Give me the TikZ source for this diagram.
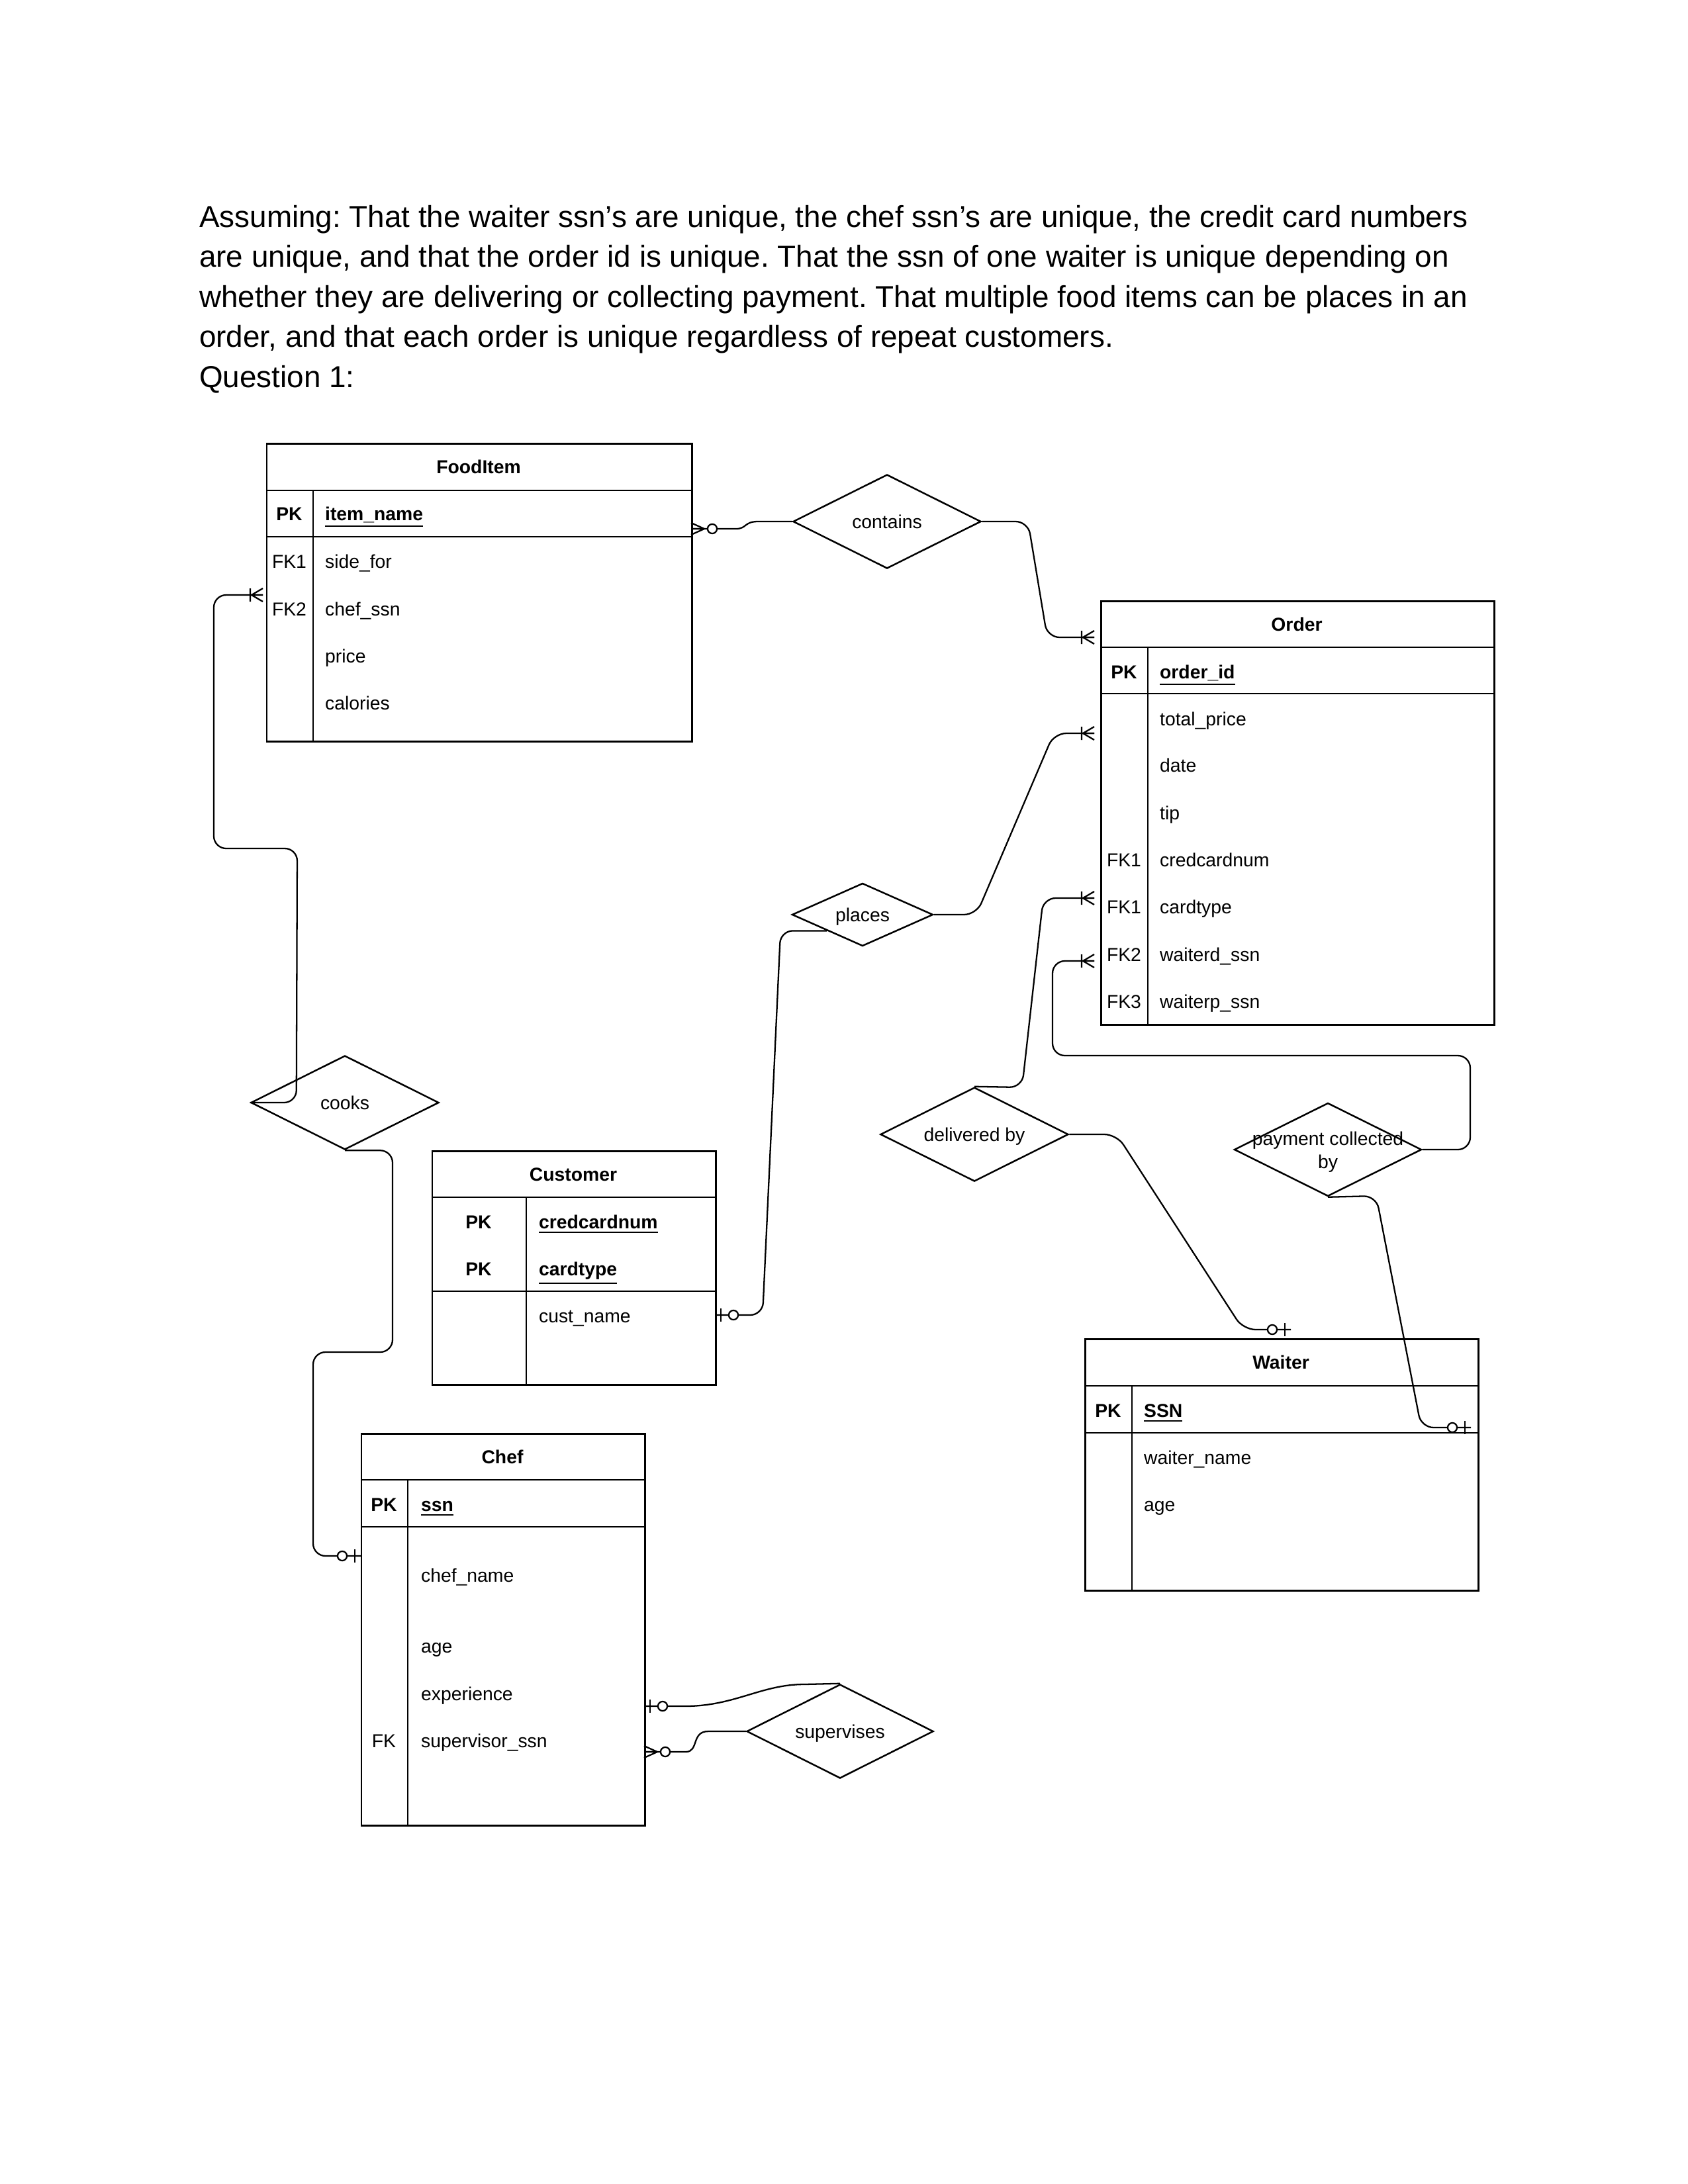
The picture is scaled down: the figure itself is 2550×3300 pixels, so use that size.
\documentclass[tikz,border=0pt]{standalone}
\usepackage{fontspec}
\setmainfont{Liberation Sans}
\usetikzlibrary{shapes.geometric,calc}

% one drawing unit = one pixel of a 300 dpi letter page
\def\pxu{0.2409pt}
\newcommand\dgfont{\fontsize{6.8bp}{8.2bp}\selectfont}
\newcommand\bodyfont{\fontsize{11bp}{14.5bp}\selectfont}

\tikzset{
  ent/.style={draw, line width=0.6pt, inner sep=0, anchor=north west},
  rel/.style={draw, diamond, line width=0.6pt, inner sep=0},
  txt/.style={font=\dgfont, inner sep=0, anchor=base west},
  key/.style={font=\dgfont, inner sep=0, anchor=base},
  hdr/.style={font=\dgfont\bfseries, inner sep=0, anchor=base},
  rlab/.style={font=\dgfont, inner sep=0, anchor=base, align=center},
  body/.style={font=\bodyfont, inner sep=0, anchor=base west},
  link/.style={line width=0.55pt, rounded corners=4.5pt},
  curve/.style={line width=0.55pt},
  % crow's foot end marks, drawn with the entity edge at the origin
  zmany/.pic={\draw (0,-9)--(20,0) (0,9)--(20,0) (0,0)--(20,0);
              \draw[fill=white] (32,0) circle[radius=1.7pt];},
  onemany/.pic={\draw (0,-10)--(17,0) (0,10)--(17,0) (0,0)--(17,0) (19,-10)--(19,10);},
  zone/.pic={\draw (9,-10)--(9,10);
             \draw[fill=white] (28,0) circle[radius=1.7pt];},
}

\begin{document}
\frenchspacing
\begin{tikzpicture}[x=\pxu, y=-\pxu, line width=0.55pt]
\useasboundingbox (0,0) rectangle (2550,3300);
\fill[white] (0,0) rectangle (2550,3300);

% ---- assumptions ----
\node[body] (l1) at (300,343) {Assuming: That the waiter ssn’s are unique, the chef ssn’s are unique, the credit card numbers};
\node[body] (l2) at (300,403.5) {are unique, and that the order id is unique. That the ssn of one waiter is unique depending on};
\node[body] (l3) at (300,464) {whether they are delivering or collecting payment. That multiple food items can be places in an};
\node[body] (l4) at (300,524.5) {order, and that each order is unique regardless of repeat customers.};
\node[body] (l5) at (300,585) {Question 1:};

% ---- FoodItem ----
\node[ent, minimum width=642*\pxu, minimum height=450*\pxu] (food) at (402,669) {};
\draw ($(food.north west)+(0,72)$) -- ($(food.north east)+(0,72)$);
\draw ($(food.north west)+(0,142)$) -- ($(food.north east)+(0,142)$);
\draw ($(food.north west)+(71,72)$) -- ($(food.south west)+(71,0)$);
\node[hdr] (food-h) at (723,715) {FoodItem};
\node[key] (food-k1) at (437,786) {\bfseries PK};
\node[key] (food-k2) at (437,858) {FK1};
\node[key] (food-k3) at (437,930) {FK2};
\node[txt] (food-a1) at (490,786) {\bfseries\underline{item\_name}};
\node[txt] (food-a2) at (490,858) {side\_for};
\node[txt] (food-a3) at (490,930) {chef\_ssn};
\node[txt] (food-a4) at (490,1001) {price};
\node[txt] (food-a5) at (490,1072) {calories};

% ---- Order ----
\node[ent, minimum width=594*\pxu, minimum height=640*\pxu] (order) at (1662,907) {};
\draw ($(order.north west)+(0,71)$) -- ($(order.north east)+(0,71)$);
\draw ($(order.north west)+(0,141)$) -- ($(order.north east)+(0,141)$);
\draw ($(order.north west)+(72,71)$) -- ($(order.south west)+(72,0)$);
\node[hdr] (order-h) at (1959,953) {Order};
\node[key] (order-k1) at (1698,1025) {\bfseries PK};
\node[key] (order-k2) at (1698,1309) {FK1};
\node[key] (order-k3) at (1698,1380) {FK1};
\node[key] (order-k4) at (1698,1452) {FK2};
\node[key] (order-k5) at (1698,1523) {FK3};
\node[txt] (order-a1) at (1751,1025) {\bfseries\underline{order\_id}};
\node[txt] (order-a2) at (1751,1096) {total\_price};
\node[txt] (order-a3) at (1751,1166) {date};
\node[txt] (order-a4) at (1751,1238) {tip};
\node[txt] (order-a5) at (1751,1309) {credcardnum};
\node[txt] (order-a6) at (1751,1380) {cardtype};
\node[txt] (order-a7) at (1751,1452) {waiterd\_ssn};
\node[txt] (order-a8) at (1751,1523) {waiterp\_ssn};

% ---- Customer ----
\node[ent, minimum width=428*\pxu, minimum height=353*\pxu] (cust) at (652,1738) {};
\draw ($(cust.north west)+(0,71)$) -- ($(cust.north east)+(0,71)$);
\draw ($(cust.north west)+(0,213)$) -- ($(cust.north east)+(0,213)$);
\draw ($(cust.north west)+(143,71)$) -- ($(cust.south west)+(143,0)$);
\node[hdr] (cust-h) at (866,1784) {Customer};
\node[key] (cust-k1) at (723,1856) {\bfseries PK};
\node[key] (cust-k2) at (723,1927) {\bfseries PK};
\node[txt] (cust-a1) at (813,1856) {\bfseries\underline{credcardnum}};
\node[txt] (cust-a2) at (813,1927) {\bfseries\underline{cardtype}};
\node[txt] (cust-a3) at (813,1998) {cust\_name};

% ---- Chef ----
\node[ent, minimum width=428*\pxu, minimum height=592*\pxu] (chef) at (545,2165) {};
\draw ($(chef.north west)+(0,71)$) -- ($(chef.north east)+(0,71)$);
\draw ($(chef.north west)+(0,142)$) -- ($(chef.north east)+(0,142)$);
\draw ($(chef.north west)+(71,71)$) -- ($(chef.south west)+(71,0)$);
\node[hdr] (chef-h) at (759,2211) {Chef};
\node[key] (chef-k1) at (580,2283) {\bfseries PK};
\node[key] (chef-k2) at (580,2640) {FK};
\node[txt] (chef-a1) at (635,2283) {\bfseries\underline{ssn}};
\node[txt] (chef-a2) at (635,2390) {chef\_name};
\node[txt] (chef-a3) at (635,2497) {age};
\node[txt] (chef-a4) at (635,2569) {experience};
\node[txt] (chef-a5) at (635,2640) {supervisor\_ssn};

% ---- Waiter ----
\node[ent, minimum width=594*\pxu, minimum height=380*\pxu] (waiter) at (1638,2022) {};
\draw ($(waiter.north west)+(0,72)$) -- ($(waiter.north east)+(0,72)$);
\draw ($(waiter.north west)+(0,143)$) -- ($(waiter.north east)+(0,143)$);
\draw ($(waiter.north west)+(72,72)$) -- ($(waiter.south west)+(72,0)$);
\node[hdr] (waiter-h) at (1935,2068) {Waiter};
\node[key] (waiter-k1) at (1674,2141) {\bfseries PK};
\node[txt] (waiter-a1) at (1727,2141) {\bfseries\underline{SSN}};
\node[txt] (waiter-a2) at (1727,2212) {waiter\_name};
\node[txt] (waiter-a3) at (1727,2283) {age};

% ---- relationships ----
\node[rel, minimum width=284*\pxu, minimum height=142*\pxu] (contains) at (1340,788) {};
\node[rlab] (contains-t) at (1340,798) {contains};
\node[rel, minimum width=213*\pxu, minimum height=95*\pxu] (places) at (1303,1382) {};
\node[rlab] (places-t) at (1303,1392) {places};
\node[rel, minimum width=284*\pxu, minimum height=142*\pxu] (cooks) at (521,1666) {};
\node[rlab] (cooks-t) at (521,1676) {cooks};
\node[rel, minimum width=284*\pxu, minimum height=142*\pxu] (delivered) at (1472,1714) {};
\node[rlab] (delivered-t) at (1472,1724) {delivered by};
\node[rel, minimum width=283*\pxu, minimum height=141*\pxu] (pay) at (2006,1737) {};
\node[rlab] (pay-t) at (2006,1765) {payment collected\\by};
\node[rel, minimum width=282*\pxu, minimum height=142*\pxu] (supervises) at (1269,2616) {};
\node[rlab] (supervises-t) at (1269,2626) {supervises};

% ---- attachment points on the entities ----
\coordinate (food-c) at (1044,799);
\coordinate (food-k) at (397,899);
\coordinate (order-c) at (1653,963);
\coordinate (order-p) at (1653,1108);
\coordinate (order-d) at (1653,1357);
\coordinate (order-w) at (1653,1452);
\coordinate (cust-p) at (1080,1987);
\coordinate (chef-k) at (545,2351);
\coordinate (chef-s1) at (973,2578);
\coordinate (chef-s2) at (973,2647);
\coordinate (waiter-d) at (1950,2009);
\coordinate (waiter-p) at (2222,2157);

% ---- connectors ----
\draw[curve] (food-c) -- (1112,799) .. controls (1128,799) and (1124,788) .. (1145,788) -- (contains.west);
\draw[link] (contains.east) -- (1553,788) -- (1582,963) -- (order-c);
\draw[link] (places.east) -- (1475,1382) -- (1592,1108) -- (order-p);
\draw[link] (places.south west) -- ++(-70,0) -- (1152,1987) -- (cust-p);
\draw[link] (delivered.north) -- (1544,1643) -- (1576,1357) -- (order-d);
\draw[link] (pay.east) -- (2221,1737) -- (2221,1595) -- (1590,1595) -- (1590,1452) -- (order-w);
\draw[link] (delivered.east) -- (1687,1714) -- (1878,2009) -- (waiter-d);
\draw[link] (pay.south) -- (2079,1807) -- (2147,2157) -- (waiter-p);
\draw[link] (cooks.west) -- ++(70,0) -- (449,1282) -- (323,1282) -- (323,899) -- (food-k);
\draw[link] (cooks.south) -- ++(72,0) -- (593,2043) -- (473,2043) -- (473,2351) -- (chef-k);
\draw[curve] (chef-s1) -- (1035,2578) .. controls (1110,2578) and (1150,2545) .. (1215,2545) -- (supervises.north);
\draw[curve] (chef-s2) -- (1036,2647) .. controls (1056,2647) and (1044,2616) .. (1070,2616) -- (supervises.west);

% ---- cardinality marks ----
\pic at (food-c) {zmany};
\pic[rotate=180] at (food-k) {onemany};
\pic[rotate=180] at (order-c) {onemany};
\pic[rotate=180] at (order-p) {onemany};
\pic[rotate=180] at (order-d) {onemany};
\pic[rotate=180] at (order-w) {onemany};
\pic at (cust-p) {zone};
\pic[rotate=180] at (chef-k) {zone};
\pic at (chef-s1) {zone};
\pic at (chef-s2) {zmany};
\pic[rotate=180] at (waiter-d) {zone};
\pic[rotate=180] at (waiter-p) {zone};
\end{tikzpicture}
\end{document}
